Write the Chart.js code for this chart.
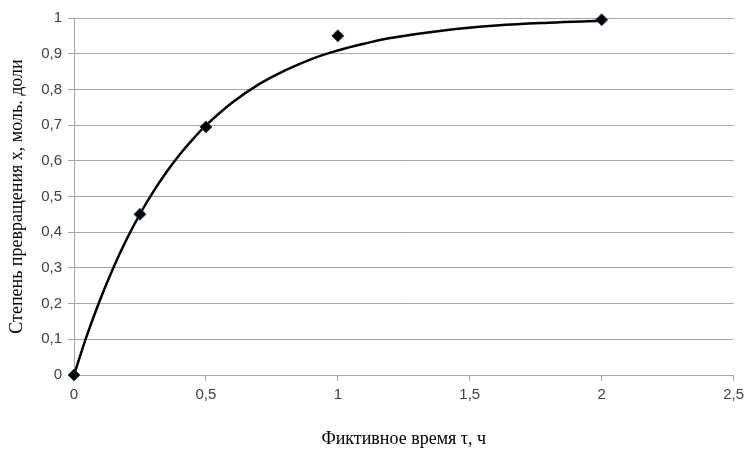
<!DOCTYPE html>
<html>
<head>
<meta charset="utf-8">
<script src="https://cdn.jsdelivr.net/npm/chart.js@4.4.0/dist/chart.umd.min.js"></script>
<style>
  html, body { margin: 0; padding: 0; background: #fff; }
  #wrap { width: 749px; height: 450px; }
</style>
</head>
<body>
<div id="wrap"><canvas id="conversionChart"></canvas></div>
<script>
// measured points
var pointTimes = [0, 0.25, 0.5, 1, 2];
var pointValues = [0, 0.45, 0.695, 0.95, 0.995];

// smooth trend curve
var curveTimes = [0, 0.05, 0.1, 0.15, 0.2, 0.25, 0.3, 0.35, 0.4, 0.45, 0.5, 0.6, 0.7, 0.8, 0.9, 1.0, 1.1, 1.2, 1.4, 1.6, 1.8, 2.0];
var curveValues = [0, 0.113, 0.213, 0.302, 0.381, 0.451, 0.513, 0.568, 0.617, 0.660, 0.699, 0.763, 0.814, 0.853, 0.885, 0.909, 0.928, 0.944, 0.965, 0.979, 0.987, 0.992];

var xTicks = [0, 0.5, 1, 1.5, 2, 2.5];
var xTitle = "Фиктивное время τ, ч";
var yTitle = "Степень превращения x, моль. доли";

function toXY(xs, ys) {
    var out = [];
    for (var i = 0; i < xs.length; i++) {
        out.push({ x: xs[i], y: ys[i] });
    }
    return out;
}

function comma(v) {
    return String(Math.round(v * 10) / 10).replace('.', ',');
}

var gridGray = "#a6a6a6";
var tickFont = { family: "'Liberation Sans', Arial, sans-serif", size: 15 };
var titleFont = { family: "'Liberation Serif', 'Times New Roman', serif", size: 18 };

var ctx = document.getElementById("conversionChart");

var chart = new Chart(ctx, {
    type: 'scatter',
    data: {
        datasets: [
            {
                label: "Points",
                data: toXY(pointTimes, pointValues),
                pointStyle: 'rectRot',
                pointRadius: 6,
                pointBackgroundColor: "#000000",
                pointBorderColor: "#24406e",
                pointBorderWidth: 1,
                showLine: false,
                clip: false,
                order: 0
            },
            {
                label: "Curve",
                data: toXY(curveTimes, curveValues),
                showLine: true,
                borderColor: "#000000",
                borderWidth: 2.5,
                pointRadius: 0,
                tension: 0.4,
                fill: false,
                clip: false,
                order: 1
            }
        ]
    },
    options: {
        responsive: true,
        maintainAspectRatio: false,
        animation: false,
        layout: { padding: { left: 6, right: 12, top: 18, bottom: 0 } },
        plugins: {
            legend: { display: false },
            tooltip: { enabled: false }
        },
        scales: {
            x: {
                type: 'linear',
                min: 0,
                max: 2.5,
                afterBuildTicks: function(axis) {
                    axis.ticks = xTicks.map(function(v) { return { value: v }; });
                },
                afterFit: function(axis) { axis.height = 75; },
                grid: {
                    drawOnChartArea: false,
                    drawTicks: true,
                    tickLength: 6,
                    color: gridGray
                },
                border: { display: true, color: gridGray, width: 1 },
                ticks: {
                    font: tickFont,
                    color: "#404040",
                    padding: 5,
                    maxRotation: 0,
                    callback: function(v) { return comma(v); }
                },
                title: {
                    display: true,
                    text: xTitle,
                    font: titleFont,
                    color: "#000000",
                    padding: { top: 12, bottom: 0 }
                }
            },
            y: {
                min: 0,
                max: 1,
                afterFit: function(axis) { axis.width = 68; },
                grid: {
                    color: gridGray,
                    lineWidth: 1,
                    tickLength: 6
                },
                border: { display: true, color: gridGray, width: 1 },
                ticks: {
                    stepSize: 0.1,
                    font: tickFont,
                    color: "#404040",
                    padding: 6,
                    callback: function(v) { return comma(v); }
                },
                title: {
                    display: true,
                    text: yTitle,
                    font: titleFont,
                    color: "#000000",
                    padding: { top: 0, bottom: 4 }
                }
            }
        }
    }
});
</script>
</body>
</html>
